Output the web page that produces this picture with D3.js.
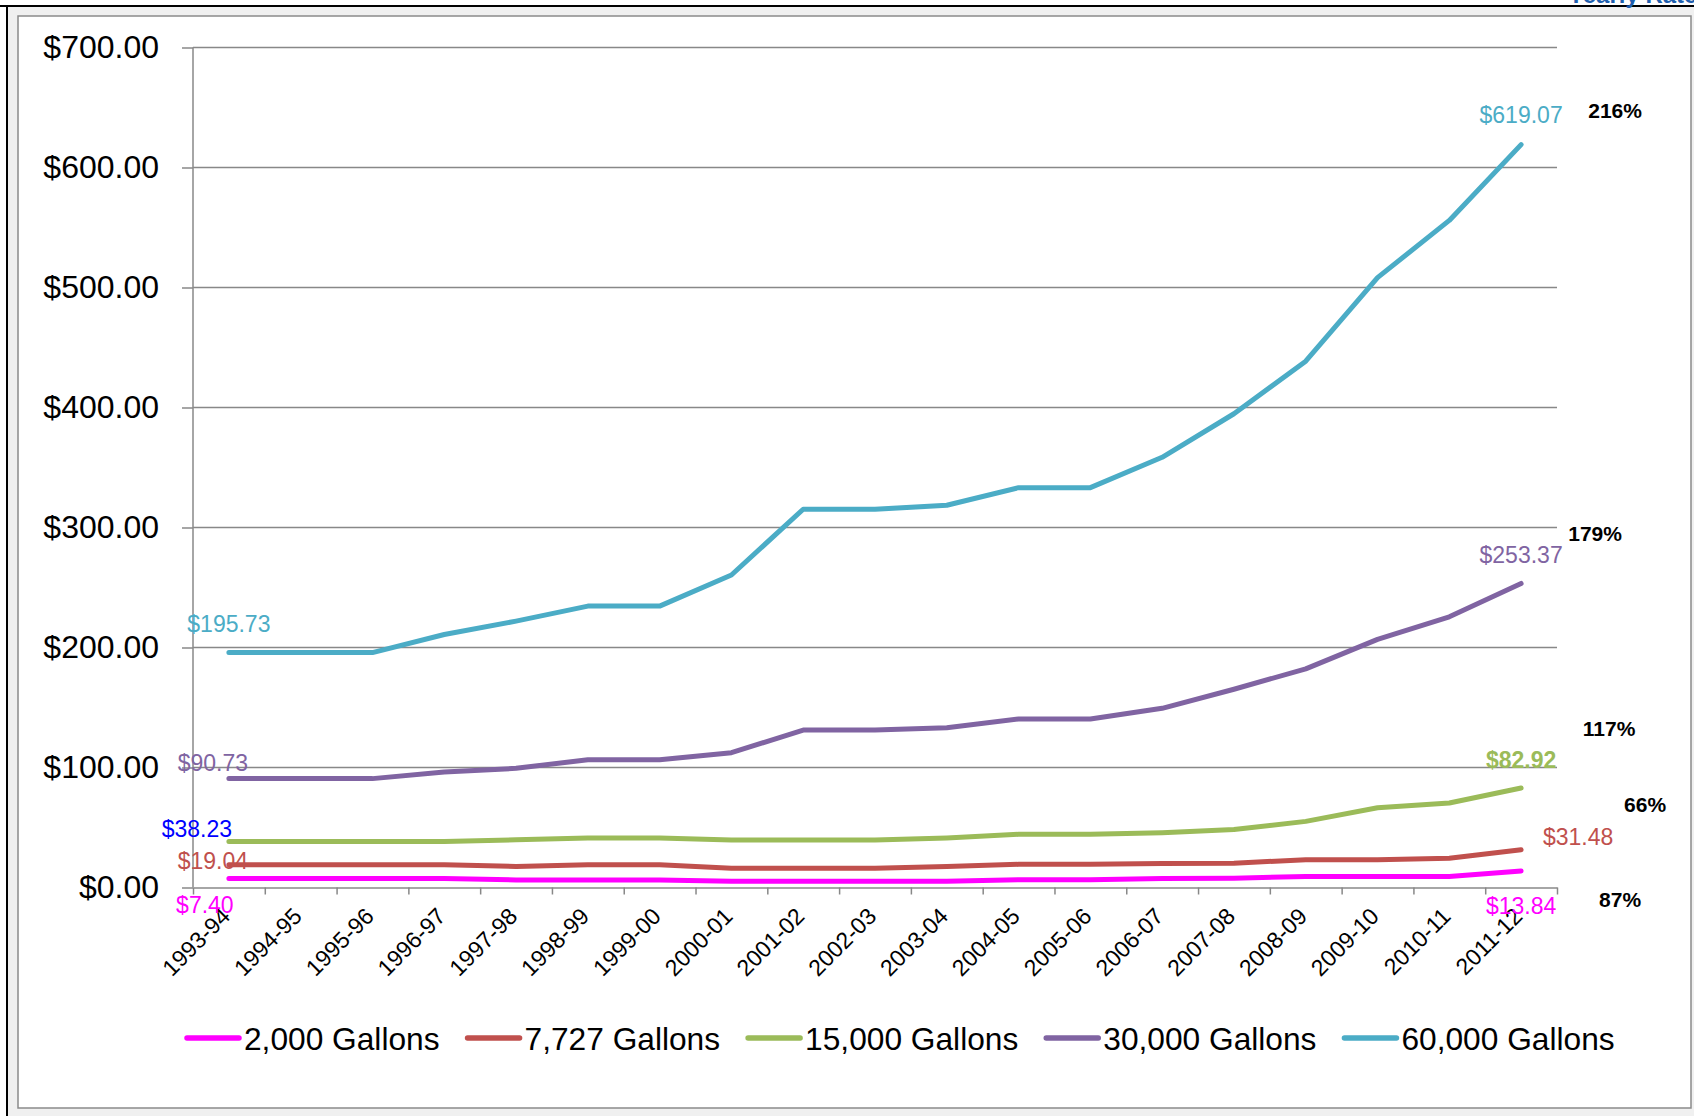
<!DOCTYPE html>
<html>
<head>
<meta charset="utf-8">
<script src="https://cdn.jsdelivr.net/npm/d3@7"></script>
<style>
body { margin: 0; background: #fff; }
svg { display: block; font-family: "Liberation Sans", Arial, sans-serif; }
</style>
</head>
<body>
<div id="chart"></div>
<script>
// datos
var years = ['1993-94', '1994-95', '1995-96', '1996-97', '1997-98', '1998-99', '1999-00',
	'2000-01', '2001-02', '2002-03', '2003-04', '2004-05', '2005-06', '2006-07',
	'2007-08', '2008-09', '2009-10', '2010-11', '2011-12'];

var gallons_2000 = [7.40, 7.40, 7.40, 7.40, 6.3, 6.3, 6.3, 5.3, 5.3, 5.3, 5.3, 6.4, 6.4, 7.5, 7.8, 9.1, 9.1, 9.1, 13.84];
var gallons_7727 = [19.04, 19.04, 19.04, 19.04, 17.5, 19.0, 19.0, 16.0, 16.0, 16.0, 17.4, 19.3, 19.3, 20.1, 20.2, 23.2, 23.2, 24.4, 31.48];
var gallons_15000 = [38.23, 38.23, 38.23, 38.23, 39.8, 41.2, 41.2, 39.6, 39.6, 39.6, 41.3, 44.3, 44.3, 45.7, 48.3, 55.1, 66.5, 70.4, 82.92];
var gallons_30000 = [90.73, 90.73, 90.73, 96.3, 99.3, 106.5, 106.5, 112.3, 131.2, 131.2, 133.2, 140.4, 140.4, 149.3, 165.2, 182.2, 206.8, 225.6, 253.37];
var gallons_60000 = [195.73, 195.73, 195.73, 210.8, 222.0, 234.5, 234.5, 260.4, 315.2, 315.2, 318.5, 333.2, 333.2, 358.5, 394.8, 438.6, 508.2, 555.9, 619.07];

var series_names = ['2,000 Gallons', '7,727 Gallons', '15,000 Gallons', '30,000 Gallons', '60,000 Gallons'];
var series_values = [gallons_2000, gallons_7727, gallons_15000, gallons_30000, gallons_60000];
var pct_texts = ['87%', '66%', '117%', '179%', '216%'];
var y_ticks = [0, 100, 200, 300, 400, 500, 600, 700];

// estilos de cada serie (colores y posicion de etiquetas)
var colors = ['#ff00ff', '#c0504d', '#9bbb59', '#8064a2', '#4bacc6'];
var first_label = [
	{dx: -24, dy: 34, color: '#ff00ff'},
	{dx: -16, dy: 4, color: '#c0504d'},
	{dx: -32, dy: -5, color: '#0000ff'},
	{dx: -16, dy: -8, color: '#8064a2'},
	{dx: 0, dy: -21, color: '#4bacc6'}
];
var last_label = [
	{dx: 0, dy: 43, weight: 'normal'},
	{dx: 57, dy: -5, weight: 'normal'},
	{dx: 0, dy: -20, weight: 'bold'},
	{dx: 0, dy: -20, weight: 'normal'},
	{dx: 0, dy: -22, weight: 'normal'}
];
var pct_label = [
	{dx: 99, dy: 36},
	{dx: 124, dy: -38},
	{dx: 88, dy: -52},
	{dx: 74, dy: -42},
	{dx: 94, dy: -27}
];

/* ------------- d3 definitions ---------- */
var width = 1694,
	height = 1116;

var plot = {left: 193, right: 1557, top: 47.5, bottom: 887.5};

var x_scale = d3.scaleBand()
	.domain(years)
	.range([plot.left, plot.right]);

var edge_scale = d3.scaleLinear()
	.domain([0, years.length])
	.range([plot.left, plot.right]);

var y_scale = d3.scaleLinear()
	.domain([0, 700])
	.range([plot.bottom, plot.top]);

function px(i) { return x_scale(years[i]) + x_scale.bandwidth() / 2; }

var lineFunction = d3.line()
	.x(function(d, i) { return px(i); })
	.y(function(d) { return y_scale(d); });

function money(v) { return '$' + v.toFixed(2); }

var canvas = d3.select('#chart')
	.append('svg')
	.attr('width', width)
	.attr('height', height);

// marco (fondo gris y bordes)
canvas.append('rect')
	.attr('x', 7).attr('y', 6)
	.attr('width', width - 7).attr('height', height - 6)
	.attr('fill', '#f0f0f0');

canvas.append('line')
	.attr('x1', 0).attr('x2', width)
	.attr('y1', 6).attr('y2', 6)
	.attr('stroke', '#000').attr('stroke-width', 2);

canvas.append('line')
	.attr('x1', 7).attr('x2', 7)
	.attr('y1', 6).attr('y2', height)
	.attr('stroke', '#000').attr('stroke-width', 2);

canvas.append('rect')
	.attr('x', 18).attr('y', 16)
	.attr('width', 1673).attr('height', 1092)
	.attr('fill', '#fff')
	.attr('stroke', '#8a8a8a')
	.attr('stroke-width', 1.5);

// texto cortado arriba a la derecha (igual que en el original)
canvas.append('text')
	.attr('x', 1568).attr('y', 3)
	.attr('fill', '#1f5fae')
	.attr('font-size', 24)
	.attr('font-weight', 'bold')
	.text('Yearly Rates');

// lineas de la grilla
canvas.append('g')
	.selectAll('line')
	.data(y_ticks.slice(1))
	.enter()
	.append('line')
		.attr('x1', plot.left).attr('x2', plot.right)
		.attr('y1', function(d) { return y_scale(d); })
		.attr('y2', function(d) { return y_scale(d); })
		.attr('stroke', '#888')
		.attr('stroke-width', 1.5);

var y_axis = d3.axisLeft(y_scale)
	.tickValues(y_ticks)
	.tickFormat(money)
	.tickSize(11)
	.tickPadding(23);

var gy = canvas.append('g')
	.attr('transform', 'translate(' + plot.left + ', 0)')
	.call(y_axis);
gy.selectAll('path, line').attr('stroke', '#888').attr('stroke-width', 1.5);
gy.select('.domain').attr('d', 'M0,' + plot.top + 'V' + plot.bottom);
gy.selectAll('text')
	.attr('font-size', 32)
	.attr('font-family', '"Liberation Sans", Arial, sans-serif')
	.attr('fill', '#000');

var x_axis = d3.axisBottom(edge_scale)
	.tickValues(d3.range(years.length + 1))
	.tickFormat('')
	.tickSize(7)
	.tickSizeOuter(0);

var gx = canvas.append('g')
	.attr('transform', 'translate(0, ' + plot.bottom + ')')
	.call(x_axis);
gx.selectAll('path, line').attr('stroke', '#888').attr('stroke-width', 1.5);

canvas.append('g')
	.selectAll('text')
	.data(years)
	.enter()
	.append('text')
		.attr('transform', function(d, i) { return 'translate(' + (px(i) - 9) + ',906) rotate(-45)'; })
		.attr('text-anchor', 'end')
		.attr('dy', '0.72em')
		.attr('font-size', 23)
		.attr('fill', '#000')
		.text(function(d) { return d; });

// series
canvas.append('g')
	.selectAll('path')
	.data(series_values)
	.enter()
	.append('path')
		.attr('d', function(d) { return lineFunction(d); })
		.attr('fill', 'none')
		.attr('stroke', function(d, i) { return colors[i]; })
		.attr('stroke-width', 5)
		.attr('stroke-linejoin', 'round')
		.attr('stroke-linecap', 'round');

var last = years.length - 1;

// etiquetas del primer valor
canvas.append('g')
	.selectAll('text')
	.data(series_values)
	.enter()
	.append('text')
		.attr('x', function(d, i) { return px(0) + first_label[i].dx; })
		.attr('y', function(d, i) { return y_scale(d[0]) + first_label[i].dy; })
		.attr('text-anchor', 'middle')
		.attr('font-size', 23)
		.attr('fill', function(d, i) { return first_label[i].color; })
		.text(function(d) { return money(d[0]); });

// etiquetas del ultimo valor
canvas.append('g')
	.selectAll('text')
	.data(series_values)
	.enter()
	.append('text')
		.attr('x', function(d, i) { return px(last) + last_label[i].dx; })
		.attr('y', function(d, i) { return y_scale(d[last]) + last_label[i].dy; })
		.attr('text-anchor', 'middle')
		.attr('font-size', 23)
		.attr('font-weight', function(d, i) { return last_label[i].weight; })
		.attr('fill', function(d, i) { return colors[i]; })
		.text(function(d) { return money(d[last]); });

// porcentaje de aumento
canvas.append('g')
	.selectAll('text')
	.data(series_values)
	.enter()
	.append('text')
		.attr('x', function(d, i) { return px(last) + pct_label[i].dx; })
		.attr('y', function(d, i) { return y_scale(d[last]) + pct_label[i].dy; })
		.attr('text-anchor', 'middle')
		.attr('font-size', 21)
		.attr('font-weight', 'bold')
		.attr('fill', '#000')
		.text(function(d, i) { return pct_texts[i]; });

// leyenda
var legend = canvas.append('g');
var lx = 187;
series_names.forEach(function(name, i) {
	legend.append('line')
		.attr('x1', lx).attr('x2', lx + 52)
		.attr('y1', 1038).attr('y2', 1038)
		.attr('stroke', colors[i])
		.attr('stroke-width', 5.5)
		.attr('stroke-linecap', 'round');
	var t = legend.append('text')
		.attr('x', lx + 57)
		.attr('y', 1050)
		.attr('font-size', 31.7)
		.attr('fill', '#000')
		.text(name);
	lx = lx + 57 + t.node().getComputedTextLength() + 28;
});
/* ------------ end d3 definitions ------------ */
</script>
</body>
</html>
